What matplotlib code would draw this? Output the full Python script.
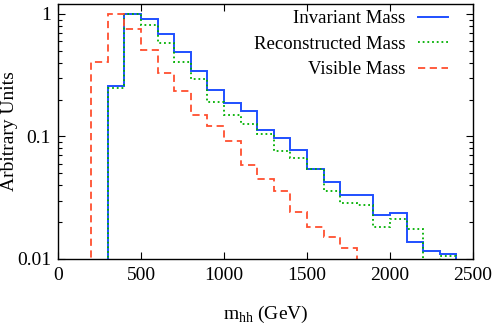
import matplotlib
matplotlib.use("Agg")
import matplotlib.pyplot as plt
import matplotlib.ticker as ticker
import numpy as np

plt.rcParams['font.family'] = ['Liberation Serif', 'DejaVu Serif']
plt.rcParams['mathtext.fontset'] = 'custom'
plt.rcParams['mathtext.rm'] = 'Liberation Serif'

# bin edges (GeV), 100 GeV bins
inv_edges = np.arange(300, 2401, 100)
inv_vals = [0.257, 1.0, 0.91, 0.69, 0.485, 0.343, 0.24, 0.187, 0.162, 0.113,
            0.0965, 0.078, 0.0543, 0.0428, 0.0335, 0.0335, 0.023, 0.0236,
            0.0138, 0.0116, 0.0109]

rec_edges = np.arange(300, 2401, 100)
rec_vals = [0.249, 1.0, 0.818, 0.578, 0.407, 0.297, 0.19, 0.149, 0.127, 0.104,
            0.0768, 0.0668, 0.0543, 0.036, 0.0286, 0.0276, 0.0184, 0.0211,
            0.0177, 0.008, 0.0105]

vis_edges = np.arange(200, 1801, 100)
vis_vals = [0.407, 1.0, 0.758, 0.507, 0.33, 0.234, 0.149, 0.122, 0.0927,
            0.0586, 0.0453, 0.0361, 0.024, 0.0184, 0.0151, 0.0122]

fig = plt.figure(figsize=(4.98, 3.27), dpi=100)
ax = fig.add_axes([0.1165, 0.208, 0.8335, 0.7802])

ax.stairs(inv_vals, inv_edges, baseline=1e-3, color='#1f4fff', lw=1.4,
          label='Invariant Mass')
ax.stairs(rec_vals, rec_edges, baseline=1e-3, color='#00b000', lw=1.3,
          linestyle=(0, (1, 1.6)), label='Reconstructed Mass')
ax.stairs(vis_vals, vis_edges, baseline=1e-3, color='#ff4f2f', lw=1.3,
          linestyle=(0, (4, 2.5)), label='Visible Mass')

ax.set_yscale('log')
ax.set_xlim(0, 2500)
ax.set_ylim(0.01, 1.21)
ax.xaxis.set_major_locator(ticker.MultipleLocator(500))
ax.yaxis.set_major_locator(ticker.FixedLocator([0.01, 0.1, 1]))
ax.yaxis.set_major_formatter(ticker.FuncFormatter(lambda v, p: '%g' % v))
ax.yaxis.set_minor_locator(ticker.LogLocator(base=10, subs=np.arange(2, 10)))
ax.yaxis.set_minor_formatter(ticker.NullFormatter())

ax.tick_params(which='both', direction='in', top=True, right=True,
               labelsize=14, width=0.8)
ax.tick_params(which='major', length=5)
ax.tick_params(axis='y', pad=5)
ax.tick_params(axis='x', pad=6)
ax.tick_params(which='minor', length=3)
for s in ax.spines.values():
    s.set_linewidth(1.0)

ax.set_xlabel(r'm$_{\mathrm{hh}}$ (GeV)', fontsize=14, labelpad=14)
ax.set_ylabel('Arbitrary Units', fontsize=14, labelpad=-1)

ax.legend(loc='upper right', bbox_to_anchor=(0.94, 0.975), frameon=False,
          markerfirst=False, fontsize=13.5, handlelength=1.6,
          handletextpad=0.7, labelspacing=0.45, borderpad=0,
          borderaxespad=0)

fig.savefig('out.png', dpi=100)
